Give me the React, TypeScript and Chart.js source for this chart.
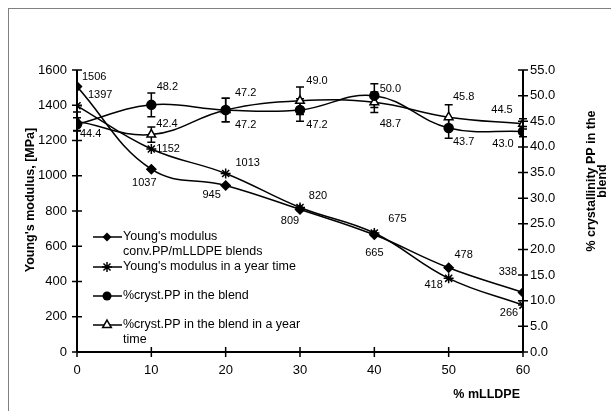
import React, { useEffect, useRef } from "react";
import { Chart, registerables } from "chart.js";
Chart.register(...registerables);

const mLLDPE = [0, 10, 20, 30, 40, 50, 60];
const youngModulus = [1506, 1037, 945, 809, 665, 478, 338];
const youngModulusYear = [1397, 1152, 1013, 820, 675, 418, 266];
const crystPP = [44.4, 48.2, 47.2, 47.2, 50.0, 43.7, 43.0];
const crystPPYear = [45.0, 42.4, 47.2, 49.0, 48.7, 45.8, 44.5];
const crystPPErr = [1.3, 2.3, 2.3, 2.2, 2.3, 2.0, 1.0];
const crystPPYearErr = [1.8, 1.5, 2.3, 2.7, 2.0, 2.4, 1.0];
const showLabel = [
  [true, true, true, true, true, true, true],
  [true, true, true, true, true, true, true],
  [true, true, true, true, true, true, true],
  [false, true, true, true, true, true, true],
];
const legendLines = [
  ["Young's modulus", "conv.PP/mLLDPE blends"],
  ["Young's modulus in a year time"],
  ["%cryst.PP in the blend"],
  ["%cryst.PP in the blend in a year", "time"],
];
const leftTitle = "Young's modulus, [MPa]";
const rightTitle = ["% crystallinity PP in the", "blend"];
const xTitle = "% mLLDPE";

const FONT = '"Liberation Sans", Arial, sans-serif';

// label placement (style): dx, dy, align
const labelPos: Array<Array<[number, number, CanvasTextAlign]>> = [
  [[5, -10, "left"], [-7, 14, "center"], [-14, 10, "center"], [-10, 12, "center"], [0, 18, "center"], [15, -13, "center"], [-6, -20, "right"]],
  [[11, -11, "left"], [5, 0, "left"], [22, -10, "center"], [18, -12, "center"], [23, -14, "center"], [-15, 7, "center"], [-14, 8, "center"]],
  [[3, 10, "left"], [16, -18, "center"], [20, 15, "center"], [17, 15, "center"], [16, -7, "center"], [15, 14, "center"], [-20, 12, "center"]],
  [[3, 10, "left"], [5, -11, "left"], [20, -17, "center"], [17, -20, "center"], [16, 22, "center"], [15, -20, "center"], [-21, -14, "center"]],
];
const markerStyles = ["rectRot", "star", "circle", "triangle"];

function drawMarker(ctx: CanvasRenderingContext2D, style: string, x: number, y: number) {
  ctx.save();
  ctx.strokeStyle = "#000";
  ctx.fillStyle = "#000";
  ctx.lineWidth = 1.5;
  ctx.beginPath();
  if (style === "rectRot") {
    const r = 4.5;
    ctx.moveTo(x, y - r); ctx.lineTo(x + r, y); ctx.lineTo(x, y + r); ctx.lineTo(x - r, y); ctx.closePath();
    ctx.fill();
  } else if (style === "star") {
    const r = 5;
    ctx.moveTo(x - r, y); ctx.lineTo(x + r, y);
    ctx.moveTo(x, y - r); ctx.lineTo(x, y + r);
    const d = r * 0.7071;
    ctx.moveTo(x - d, y - d); ctx.lineTo(x + d, y + d);
    ctx.moveTo(x - d, y + d); ctx.lineTo(x + d, y - d);
    ctx.stroke();
  } else if (style === "circle") {
    ctx.arc(x, y, 4.5, 0, Math.PI * 2);
    ctx.fill();
  } else {
    const r = 5;
    ctx.fillStyle = "#fff";
    ctx.moveTo(x, y - r); ctx.lineTo(x + r * 0.866, y + r * 0.5); ctx.lineTo(x - r * 0.866, y + r * 0.5); ctx.closePath();
    ctx.fill(); ctx.stroke();
  }
  ctx.restore();
}

const customPlugin = {
  id: "custom",
  beforeDatasetsDraw(chart: any) {
    const ctx = chart.ctx as CanvasRenderingContext2D;
    const y1 = chart.scales.y1;
    const x = chart.scales.x;
    const sets: Array<[number[], number[]]> = [[crystPP, crystPPErr], [crystPPYear, crystPPYearErr]];
    ctx.save();
    ctx.strokeStyle = "#000";
    ctx.lineWidth = 1.5;
    for (const [vals, errs] of sets) {
      vals.forEach((v, i) => {
        const px = x.getPixelForValue(mLLDPE[i]);
        const top = y1.getPixelForValue(v + errs[i]);
        const bot = y1.getPixelForValue(v - errs[i]);
        ctx.beginPath();
        ctx.moveTo(px, top); ctx.lineTo(px, bot);
        ctx.moveTo(px - 4, top); ctx.lineTo(px + 4, top);
        ctx.moveTo(px - 4, bot); ctx.lineTo(px + 4, bot);
        ctx.stroke();
      });
    }
    ctx.restore();
  },
  afterDraw(chart: any) {
    const ctx = chart.ctx as CanvasRenderingContext2D;
    const { left, right, top, bottom } = chart.chartArea;
    const xs = chart.scales.x, ys = chart.scales.y, y1 = chart.scales.y1;
    ctx.save();
    ctx.strokeStyle = "#000";
    ctx.lineWidth = 2;
    ctx.beginPath();
    ctx.moveTo(left, top); ctx.lineTo(left, bottom);
    ctx.moveTo(right, top); ctx.lineTo(right, bottom);
    ctx.moveTo(left, bottom); ctx.lineTo(right, bottom);
    ctx.stroke();
    ctx.lineWidth = 1.5;
    ctx.beginPath();
    ys.ticks.forEach((t: any) => { const p = ys.getPixelForValue(t.value); ctx.moveTo(left - 5, p); ctx.lineTo(left + 5, p); });
    y1.ticks.forEach((t: any) => { const p = y1.getPixelForValue(t.value); ctx.moveTo(right - 5, p); ctx.lineTo(right + 5, p); });
    xs.ticks.forEach((t: any) => { const p = xs.getPixelForValue(t.value); ctx.moveTo(p, bottom - 5); ctx.lineTo(p, bottom + 5); });
    ctx.stroke();

    // data labels
    ctx.fillStyle = "#000";
    ctx.font = `11px ${FONT}`;
    ctx.textBaseline = "middle";
    chart.data.datasets.forEach((ds: any, di: number) => {
      const meta = chart.getDatasetMeta(di);
      meta.data.forEach((pt: any, i: number) => {
        if (!showLabel[di][i]) return;
        const [dx, dy, al] = labelPos[di][i];
        const v = ds.data[i].y;
        const txt = di < 2 ? String(v) : v.toFixed(1);
        ctx.textAlign = al;
        ctx.fillText(txt, pt.x + dx, pt.y + dy);
      });
    });

    // legend
    const rows = [228, 258, 287, 316];
    ctx.font = `12.5px ${FONT}`;
    ctx.textAlign = "left";
    legendLines.forEach((lines, i) => {
      const y = rows[i];
      ctx.lineWidth = 1.5;
      ctx.beginPath(); ctx.moveTo(84, y); ctx.lineTo(113, y); ctx.stroke();
      drawMarker(ctx, markerStyles[i], 98, y);
      lines.forEach((ln, k) => ctx.fillText(ln, 114, y + k * 15));
    });

    // titles
    ctx.font = `bold 12.5px ${FONT}`;
    ctx.textAlign = "center";
    ctx.save();
    ctx.translate(22, 191);
    ctx.rotate(-Math.PI / 2);
    ctx.fillText(leftTitle, 0, 0);
    ctx.restore();
    ctx.save();
    ctx.translate(583, 172);
    ctx.rotate(-Math.PI / 2);
    rightTitle.forEach((ln, k) => ctx.fillText(ln, 0, k * 11));
    ctx.restore();
    ctx.textAlign = "right";
    ctx.fillText(xTitle, 511, 386);
    ctx.restore();
  },
};

export default function App() {
  const ref = useRef<HTMLCanvasElement>(null);
  useEffect(() => {
    if (!ref.current) return;
    const base = {
      borderColor: "#000",
      backgroundColor: "#000",
      borderWidth: 1.5,
      tension: 0.4,
      fill: false,
      pointBorderColor: "#000",
      pointBorderWidth: 1.5,
    };
    const mk = (arr: number[]) => mLLDPE.map((x, i) => ({ x, y: arr[i] }));
    const chart = new Chart(ref.current, {
      type: "line",
      data: {
        datasets: [
          { ...base, label: legendLines[0].join(" "), data: mk(youngModulus), yAxisID: "y", pointStyle: "rectRot", pointRadius: 4.5, pointBackgroundColor: "#000" },
          { ...base, label: legendLines[1].join(" "), data: mk(youngModulusYear), yAxisID: "y", pointStyle: "star", pointRadius: 5, pointBackgroundColor: "#000" },
          { ...base, label: legendLines[2].join(" "), data: mk(crystPP), yAxisID: "y1", pointStyle: "circle", pointRadius: 4.5, pointBackgroundColor: "#000" },
          { ...base, label: legendLines[3].join(" "), data: mk(crystPPYear), yAxisID: "y1", pointStyle: "triangle", pointRadius: 5, pointBackgroundColor: "#fff" },
        ],
      },
      options: {
        responsive: false,
        animation: false,
        devicePixelRatio: 1,
        layout: { padding: { top: 61, left: 0, right: 0, bottom: 0 } },
        plugins: { legend: { display: false }, tooltip: { enabled: false } },
        scales: {
          x: {
            type: "linear", min: 0, max: 60,
            ticks: { stepSize: 10, color: "#000", font: { family: FONT, size: 13 }, padding: 11, callback: (v: any) => String(v) },
            grid: { display: false, drawTicks: false }, border: { display: false },
            afterFit: (s: any) => { s.height = 59; },
          },
          y: {
            position: "left", min: 0, max: 1600,
            ticks: { stepSize: 200, color: "#000", font: { family: FONT, size: 13 }, padding: 10, callback: (v: any) => String(v) },
            grid: { display: false, drawTicks: false }, border: { display: false },
            afterFit: (s: any) => { s.width = 68; },
          },
          y1: {
            position: "right", min: 0, max: 55,
            ticks: { stepSize: 5, color: "#000", font: { family: FONT, size: 13 }, padding: 7, callback: (v: any) => Number(v).toFixed(1) },
            grid: { display: false, drawTicks: false }, border: { display: false },
            afterFit: (s: any) => { s.width = 88; },
          },
        },
      },
      plugins: [customPlugin],
    } as any);
    return () => chart.destroy();
  }, []);
  return (
    <div style={{ position: "fixed", left: 8, top: 8, width: 602, height: 402, borderLeft: "1px solid #808080", borderTop: "1px solid #808080", background: "#fff" }}>
      <canvas ref={ref} width={602} height={402} style={{ display: "block" }} />
    </div>
  );
}
